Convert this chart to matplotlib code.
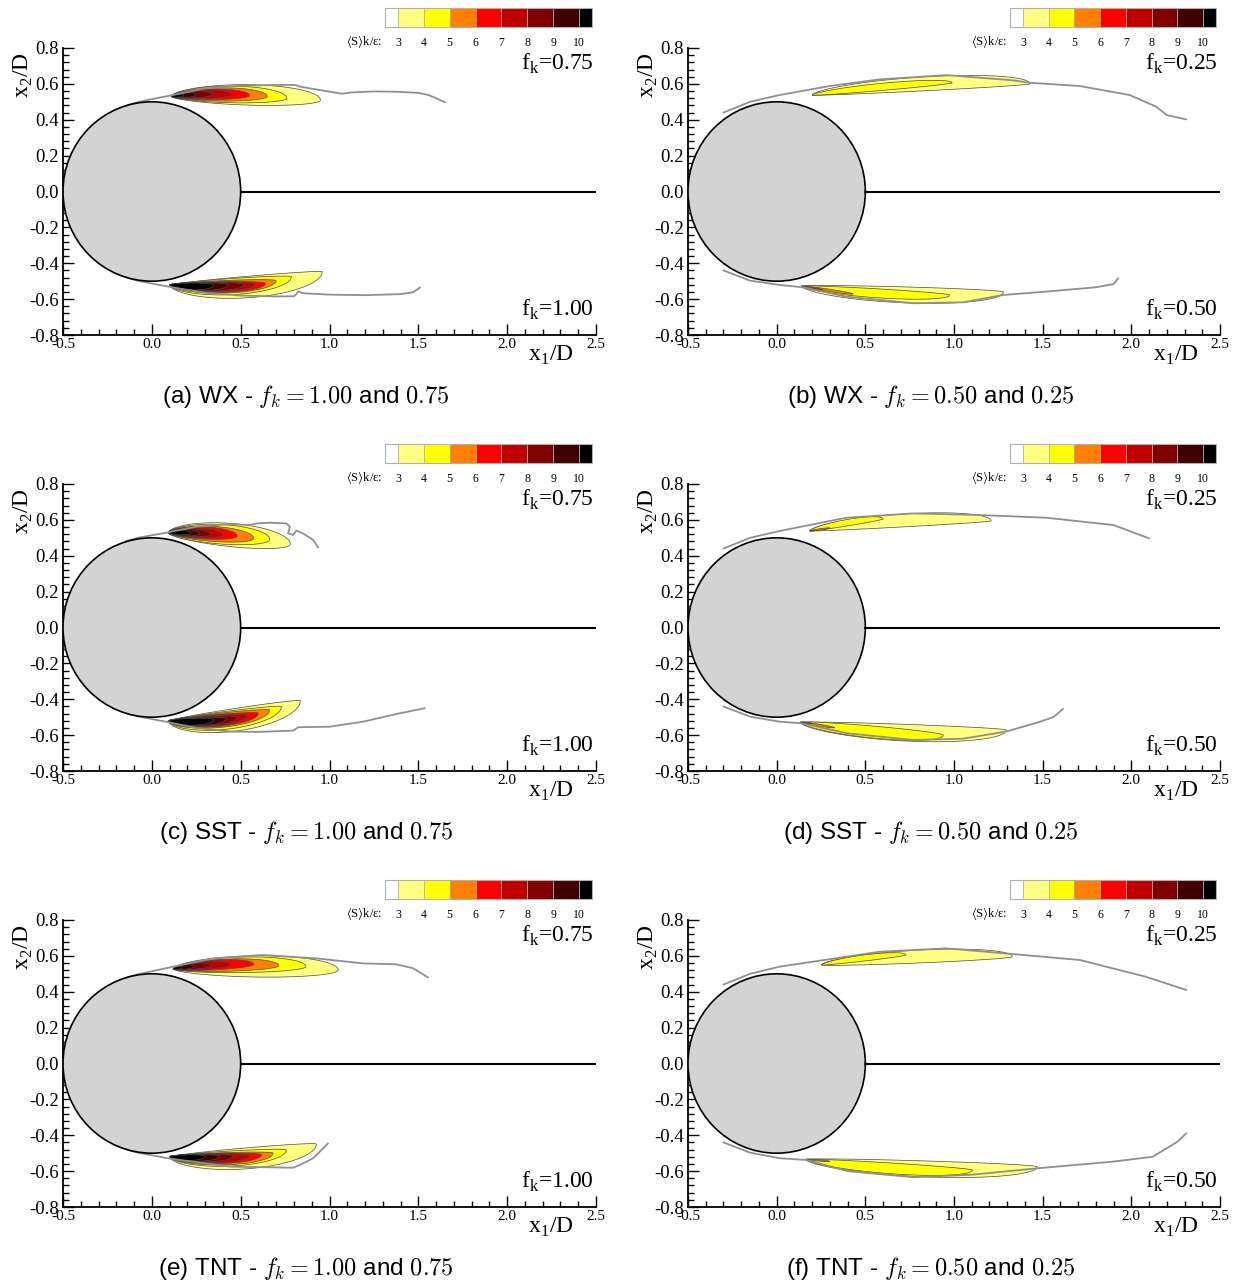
import numpy as np
import matplotlib
matplotlib.use("Agg")
import matplotlib.pyplot as plt
from matplotlib.colors import ListedColormap, BoundaryNorm
from matplotlib.patches import Circle
import matplotlib.cm as cm
from matplotlib.ticker import MultipleLocator, FuncFormatter

plt.rcParams['font.family'] = ['Liberation Serif', 'DejaVu Serif']
plt.rcParams['axes.unicode_minus'] = False

# ---------------- data ----------------
LEVELS = [3, 4, 5, 6, 7, 8, 9, 10]
CB_COLORS = ['#FFFFFF', '#FFFF80', '#FFFF00', '#FF8000', '#FF0000',
             '#C00000', '#800000', '#400000', '#000000']
CB_LABEL = r"$\langle$S$\rangle$k/ε:"

CAPTIONS = [r"(a) WX - $f_k = 1.00$ and $0.75$",
            r"(b) WX - $f_k = 0.50$ and $0.25$",
            r"(c) SST - $f_k = 1.00$ and $0.75$",
            r"(d) SST - $f_k = 0.50$ and $0.25$",
            r"(e) TNT - $f_k = 1.00$ and $0.75$",
            r"(f) TNT - $f_k = 0.50$ and $0.25$"]
FK_UPPER = ["0.75", "0.25", "0.75", "0.25", "0.75", "0.25"]
FK_LOWER = ["1.00", "0.50", "1.00", "0.50", "1.00", "0.50"]

X_TICKS = [-0.5, 0.0, 0.5, 1.0, 1.5, 2.0, 2.5]
Y_TICKS = [-0.8, -0.6, -0.4, -0.2, 0.0, 0.2, 0.4, 0.6, 0.8]

# contour-level outlines of <S>k/eps: rows are (level, end_x, end_y, thickness_up, thickness_down)
A_UP_TIP = (0.11, 0.53)
A_UP_ROWS = [(3, 0.95, 0.510, 0.076, 0.038), (4, 0.76, 0.520, 0.063, 0.030),
             (5, 0.65, 0.530, 0.048, 0.026), (6, 0.55, 0.535, 0.038, 0.020),
             (7, 0.45, 0.540, 0.031, 0.017), (8, 0.34, 0.540, 0.025, 0.014),
             (9, 0.25, 0.538, 0.018, 0.011), (10, 0.18, 0.535, 0.011, 0.007)]
A_UP_GX = [-0.15, -0.08, 0.0, 0.12, 0.3, 0.5, 0.7, 0.81, 0.83, 0.95, 1.07, 1.12, 1.25, 1.38, 1.5, 1.56, 1.6, 1.65]
A_UP_GY = [0.477, 0.498, 0.515, 0.538, 0.575, 0.590, 0.594, 0.594, 0.585, 0.565, 0.545, 0.552, 0.558, 0.556, 0.550, 0.537, 0.520, 0.497]

A_LO_TIP = (0.10, -0.52)
A_LO_ROWS = [(3, 0.96, -0.447, 0.010, 0.110), (4, 0.786, -0.475, 0.012, 0.078),
             (5, 0.70, -0.497, 0.012, 0.058), (6, 0.64, -0.512, 0.013, 0.046),
             (7, 0.58, -0.516, 0.013, 0.040), (8, 0.52, -0.518, 0.013, 0.036),
             (9, 0.43, -0.520, 0.012, 0.032), (10, 0.35, -0.522, 0.011, 0.027)]
A_LO_GX = [-0.15, -0.08, 0.0, 0.12, 0.3, 0.5, 0.7, 0.80, 0.815, 0.825, 0.85, 1.0, 1.2, 1.4, 1.47, 1.51]
A_LO_GY = [-0.477, -0.497, -0.513, -0.535, -0.565, -0.580, -0.585, -0.584, -0.570, -0.557, -0.567, -0.575, -0.578, -0.572, -0.562, -0.535]

B_UP_TIP = (0.20, 0.537)
B_UP_ROWS = [(3, 1.43, 0.600, 0.070, 0.008), (4, 0.99, 0.606, 0.032, 0.008)]
B_UP_GX = [-0.3, -0.15, 0.017, 0.30, 0.58, 0.96, 1.33, 1.43, 1.71, 1.99, 2.14, 2.20, 2.31]
B_UP_GY = [0.440, 0.500, 0.538, 0.588, 0.625, 0.649, 0.620, 0.606, 0.588, 0.538, 0.473, 0.426, 0.402]

B_LO_TIP = (0.14, -0.527)
B_LO_ROWS = [(3, 1.28, -0.560, 0.012, 0.077), (4, 0.976, -0.577, 0.010, 0.040),
             (5, 0.43, -0.571, 0.006, 0.007), (6, 0.26, -0.548, 0.003, 0.004)]
B_LO_GX = [-0.3, -0.15, 0.017, 0.15, 0.39, 0.77, 1.05, 1.276, 1.52, 1.80, 1.90, 1.925]
B_LO_GY = [-0.440, -0.497, -0.521, -0.534, -0.586, -0.623, -0.618, -0.577, -0.558, -0.534, -0.516, -0.484]

C_UP_TIP = (0.092, 0.528)
C_UP_ROWS = [(3, 0.78, 0.465, 0.085, 0.045), (4, 0.664, 0.492, 0.065, 0.044),
             (5, 0.574, 0.497, 0.052, 0.032), (6, 0.48, 0.510, 0.042, 0.025),
             (7, 0.40, 0.515, 0.034, 0.019), (8, 0.33, 0.518, 0.028, 0.016),
             (9, 0.27, 0.522, 0.022, 0.013), (10, 0.22, 0.525, 0.016, 0.010)]
C_UP_GX = [-0.15, -0.08, 0.09, 0.25, 0.44, 0.55, 0.59, 0.664, 0.758, 0.777, 0.767, 0.795, 0.814, 0.85, 0.908, 0.927, 0.936]
C_UP_GY = [0.480, 0.500, 0.530, 0.562, 0.577, 0.571, 0.580, 0.584, 0.580, 0.562, 0.525, 0.516, 0.540, 0.525, 0.488, 0.460, 0.447]

C_LO_TIP = (0.092, -0.52)
C_LO_ROWS = [(3, 0.837, -0.408, 0.012, 0.115), (4, 0.73, -0.441, 0.012, 0.088),
             (5, 0.664, -0.460, 0.012, 0.068), (6, 0.60, -0.478, 0.012, 0.055),
             (7, 0.54, -0.490, 0.012, 0.047), (8, 0.48, -0.500, 0.012, 0.040),
             (9, 0.42, -0.508, 0.011, 0.034), (10, 0.35, -0.514, 0.010, 0.028)]
C_LO_GX = [-0.15, -0.08, 0.092, 0.25, 0.44, 0.6, 0.795, 0.824, 1.0, 1.19, 1.377, 1.536]
C_LO_GY = [-0.477, -0.495, -0.528, -0.560, -0.580, -0.582, -0.575, -0.556, -0.553, -0.525, -0.482, -0.450]

D_UP_TIP = (0.186, 0.538)
D_UP_ROWS = [(3, 1.21, 0.594, 0.066, 0.006), (4, 0.60, 0.605, 0.030, 0.006),
             (5, 0.30, 0.555, 0.004, 0.004)]
D_UP_GX = [-0.3, -0.15, 0.017, 0.393, 0.77, 1.145, 1.52, 1.90, 2.10]
D_UP_GY = [0.440, 0.500, 0.538, 0.612, 0.636, 0.627, 0.612, 0.571, 0.497]

D_LO_TIP = (0.134, -0.528)
D_LO_ROWS = [(3, 1.295, -0.571, 0.010, 0.083), (4, 0.94, -0.600, 0.015, 0.052),
             (5, 0.327, -0.558, 0.005, 0.006), (6, 0.20, -0.535, 0.003, 0.003)]
D_LO_GX = [-0.3, -0.15, 0.017, 0.14, 0.40, 0.77, 1.05, 1.295, 1.48, 1.56, 1.615]
D_LO_GY = [-0.440, -0.497, -0.525, -0.534, -0.590, -0.627, -0.620, -0.580, -0.527, -0.500, -0.454]

E_UP_TIP = (0.12, 0.527)
E_UP_ROWS = [(3, 1.05, 0.521, 0.077, 0.042), (4, 0.867, 0.540, 0.060, 0.027),
             (5, 0.715, 0.545, 0.046, 0.022), (6, 0.574, 0.553, 0.036, 0.018),
             (7, 0.44, 0.550, 0.029, 0.015), (8, 0.33, 0.545, 0.022, 0.012),
             (9, 0.24, 0.540, 0.015, 0.009), (10, 0.17, 0.535, 0.009, 0.006)]
E_UP_GX = [-0.15, -0.08, 0.12, 0.345, 0.626, 0.927, 1.19, 1.377, 1.47, 1.555]
E_UP_GY = [0.477, 0.497, 0.540, 0.586, 0.605, 0.586, 0.558, 0.553, 0.531, 0.480]

E_LO_TIP = (0.10, -0.519)
E_LO_ROWS = [(3, 0.927, -0.449, 0.012, 0.105), (4, 0.758, -0.482, 0.012, 0.072),
             (5, 0.683, -0.500, 0.012, 0.056), (6, 0.617, -0.508, 0.012, 0.045),
             (7, 0.55, -0.512, 0.012, 0.038), (8, 0.46, -0.515, 0.012, 0.032),
             (9, 0.38, -0.517, 0.011, 0.027), (10, 0.30, -0.518, 0.010, 0.022)]
E_LO_GX = [-0.15, -0.08, 0.10, 0.44, 0.795, 0.833, 0.908, 0.955, 0.992]
E_LO_GY = [-0.477, -0.497, -0.530, -0.575, -0.581, -0.566, -0.528, -0.482, -0.445]

F_UP_TIP = (0.252, 0.549)
F_UP_ROWS = [(3, 1.33, 0.595, 0.060, 0.012), (4, 0.73, 0.605, 0.028, 0.006)]
F_UP_GX = [-0.3, -0.15, 0.017, 0.58, 0.957, 1.333, 1.71, 2.08, 2.31]
F_UP_GY = [0.440, 0.500, 0.540, 0.623, 0.642, 0.610, 0.577, 0.484, 0.410]

F_LO_TIP = (0.164, -0.534)
F_LO_ROWS = [(3, 1.47, -0.575, 0.012, 0.077), (4, 1.104, -0.594, 0.010, 0.050),
             (5, 0.30, -0.545, 0.003, 0.004)]
F_LO_GX = [-0.3, -0.15, 0.017, 0.167, 0.40, 0.77, 1.10, 1.474, 1.897, 2.12, 2.26, 2.31]
F_LO_GY = [-0.440, -0.497, -0.528, -0.538, -0.600, -0.634, -0.620, -0.584, -0.547, -0.520, -0.436, -0.389]

PANELS = [
    (A_UP_TIP, A_UP_ROWS, A_UP_GX, A_UP_GY, A_LO_TIP, A_LO_ROWS, A_LO_GX, A_LO_GY),
    (B_UP_TIP, B_UP_ROWS, B_UP_GX, B_UP_GY, B_LO_TIP, B_LO_ROWS, B_LO_GX, B_LO_GY),
    (C_UP_TIP, C_UP_ROWS, C_UP_GX, C_UP_GY, C_LO_TIP, C_LO_ROWS, C_LO_GX, C_LO_GY),
    (D_UP_TIP, D_UP_ROWS, D_UP_GX, D_UP_GY, D_LO_TIP, D_LO_ROWS, D_LO_GX, D_LO_GY),
    (E_UP_TIP, E_UP_ROWS, E_UP_GX, E_UP_GY, E_LO_TIP, E_LO_ROWS, E_LO_GX, E_LO_GY),
    (F_UP_TIP, F_UP_ROWS, F_UP_GX, F_UP_GY, F_LO_TIP, F_LO_ROWS, F_LO_GX, F_LO_GY),
]

# ---------------- layout ----------------
W, H = 1243, 1283
fig = plt.figure(figsize=(W / 100, H / 100), dpi=100)


def rect(l, t, r, b):
    return [l / W, 1 - b / H, (r - l) / W, (b - t) / H]


COL_X = [(63, 596), (688, 1220)]
ROW_Y = [(48, 335), (484, 771), (920, 1207)]
CB_X = [(385, 592), (1010, 1216)]

cmap = ListedColormap(CB_COLORS[1:-1])
cmap.set_under(CB_COLORS[0])
cmap.set_over(CB_COLORS[-1])
norm = BoundaryNorm(LEVELS, cmap.N)

EDGE = '#4a4a4a'
GRAY = '#8f8f8f'


def teardrop(tip, end, up, dn, n=160, a=0.6, b=0.5):
    t = np.linspace(0, 1, n)
    x = tip[0] + t * (end[0] - tip[0])
    yc = tip[1] + t * (end[1] - tip[1])
    p = t ** a * (1 - t) ** b
    p = p / p.max()
    top = yc + up * p
    bot = yc - dn * p
    return np.concatenate([x, x[::-1]]), np.concatenate([top, bot[::-1]])


def draw_layer(ax, tip, rows, gx, gy):
    for lev, ex, ey, up, dn in rows:
        xs, ys = teardrop(tip, (ex, ey), up, dn)
        ax.fill(xs, ys, facecolor=CB_COLORS[lev - 2], edgecolor=EDGE,
                lw=0.5, zorder=2 + 0.01 * lev)
    ax.plot(gx, gy, color=GRAY, lw=1.3, zorder=3, solid_capstyle='round')


for i, data in enumerate(PANELS):
    row, col = divmod(i, 2)
    (l, r), (t, b) = COL_X[col], ROW_Y[row]
    ax = fig.add_axes(rect(l, t, r, b))
    ax.set_xlim(-0.5, 2.5)
    ax.set_ylim(-0.8, 0.8)
    for s in ['top', 'right']:
        ax.spines[s].set_visible(False)
    for s in ['left', 'bottom']:
        ax.spines[s].set_linewidth(1.3)
    ax.set_xticks(X_TICKS)
    ax.set_yticks(Y_TICKS)
    ax.xaxis.set_minor_locator(MultipleLocator(0.1))
    ax.yaxis.set_minor_locator(MultipleLocator(0.04))
    ax.xaxis.set_major_formatter(FuncFormatter(lambda v, p: f"{v:.1f}"))
    ax.yaxis.set_major_formatter(FuncFormatter(lambda v, p: f"{v:.1f}"))
    ax.tick_params(which='both', direction='in', top=False, right=False, width=1.0)
    ax.tick_params(which='major', length=8)
    ax.tick_params(which='minor', length=4)
    ax.tick_params(axis='y', labelsize=13.5, pad=3)
    ax.tick_params(axis='x', labelsize=11, pad=2)

    up_tip, up_rows, up_gx, up_gy, lo_tip, lo_rows, lo_gx, lo_gy = data
    draw_layer(ax, up_tip, up_rows, up_gx, up_gy)
    draw_layer(ax, lo_tip, lo_rows, lo_gx, lo_gy)

    ax.add_patch(Circle((0, 0), 0.5, facecolor='#D3D3D3', edgecolor='black',
                        lw=1.2, zorder=4))
    ax.plot([0.5, 2.5], [0, 0], color='black', lw=1.5, zorder=4)

    # in-panel labels
    hgt = b - t
    ax.text(0.995, 1 - 16 / hgt, "f$_\\mathregular{k}$=" + FK_UPPER[i],
            transform=ax.transAxes, ha='right', va='center', fontsize=17)
    ax.text(0.995, 1 - 262 / hgt, "f$_\\mathregular{k}$=" + FK_LOWER[i],
            transform=ax.transAxes, ha='right', va='center', fontsize=17)

    # axis labels
    fig.text((l + 488) / W, 1 - (b + 20) / H, "x$_\\mathregular{1}$/D", fontsize=17,
             ha='center', va='center')
    fig.text((l - 40) / W, 1 - (t + 27) / H, "x$_\\mathregular{2}$/D", fontsize=17,
             ha='center', va='center', rotation=90)

    # caption
    fig.text((l + 243) / W, 1 - (b + 61) / H, CAPTIONS[i], fontsize=17.5,
             family='Liberation Sans', math_fontfamily='cm', ha='center', va='center')

    # colorbar
    cl, cr = CB_X[col]
    cax = fig.add_axes(rect(cl, t - 40, cr, t - 21))
    cb = fig.colorbar(cm.ScalarMappable(norm=norm, cmap=cmap), cax=cax,
                      orientation='horizontal', extend='both', extendrect=True,
                      extendfrac=0.5 / 7, drawedges=True, ticks=LEVELS)
    cb.outline.set_edgecolor('#b0b0b0')
    cb.outline.set_linewidth(0.8)
    cb.dividers.set_color('#b0b0b0')
    cb.dividers.set_linewidth(0.6)
    cax.tick_params(length=0, labelsize=8.5, pad=7)
    cax.set_xticklabels([str(v) for v in LEVELS])
    fig.text((cl - 3) / W, 1 - (t - 7) / H, CB_LABEL, fontsize=9,
             math_fontfamily='stix', ha='right', va='center')

fig.savefig("out.png", dpi=100)
